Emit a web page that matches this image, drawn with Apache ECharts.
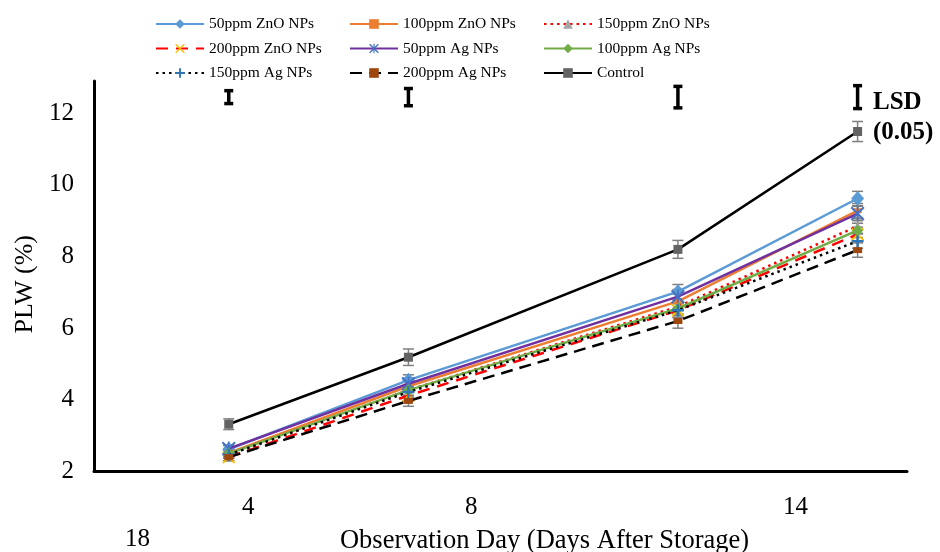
<!DOCTYPE html>
<html><head><meta charset="utf-8">
<script src="https://cdn.jsdelivr.net/npm/echarts@6/dist/echarts.min.js"></script>
<style>html,body{margin:0;padding:0;background:#fff}#c{width:940px;height:552px}</style>
</head><body><div id="c"></div>
<script>
const days = [4, 8, 14, 18];
const xTickLabels = ['4', '8', '14', '18'];
const zno50 = [2.62, 4.55, 7.02, 9.62];
const zno100 = [2.52, 4.38, 6.75, 9.28];
const zno150 = [2.47, 4.27, 6.6, 8.85];
const zno200 = [2.4, 4.12, 6.5, 8.62];
const ag50 = [2.64, 4.45, 6.88, 9.2];
const ag100 = [2.5, 4.27, 6.55, 8.73];
const ag150 = [2.47, 4.22, 6.5, 8.43];
const ag200 = [2.4, 3.97, 6.2, 8.18];
const control = [3.32, 5.19, 8.2, 11.49];
const controlErr = [0.15, 0.23, 0.25, 0.28];
const treatErr = [0.1, 0.15, 0.2, 0.2];
const lsdLevel = [12.45, 12.45, 12.45, 12.45];
const lsdHalf = [0.18, 0.24, 0.3, 0.32];

const FONT = '"Liberation Serif", "Times New Roman", serif';
const X_PATH = 'path://M0,1L1,0L5,4L9,0L10,1L6,5L10,9L9,10L5,6L1,10L0,9L4,5Z';
const AST_PATH = 'path://M0,1L1,0L5,4L9,0L10,1L6,5L10,9L9,10L5,6L1,10L0,9L4,5Z M4.4,0L5.6,0L5.6,10L4.4,10Z';
const PLUS_PATH = 'path://M4,0L6,0L6,4L10,4L10,6L6,6L6,10L4,10L4,6L0,6L0,4L4,4Z';

function pairs(vals) { return days.map((d, i) => [d, vals[i]]); }
function errData(vals, err) { return days.map((d, i) => [d, vals[i] - err[i], vals[i] + err[i]]); }

function errRender(color, width, capW) {
  return function (params, api) {
    const x = api.value(0), lo = api.value(1), hi = api.value(2);
    const t = api.coord([x, hi]), b = api.coord([x, lo]);
    const st = { stroke: color, lineWidth: width };
    return { type: 'group', children: [
      { type: 'line', shape: { x1: t[0], y1: t[1], x2: b[0], y2: b[1] }, style: st },
      { type: 'line', shape: { x1: t[0] - capW / 2, y1: t[1], x2: t[0] + capW / 2, y2: t[1] }, style: st },
      { type: 'line', shape: { x1: b[0] - capW / 2, y1: b[1], x2: b[0] + capW / 2, y2: b[1] }, style: st }
    ] };
  };
}
function errSeries(vals, err, color, width, capW, z) {
  return { type: 'custom', silent: true, z: z, renderItem: errRender(color, width, capW),
    encode: { x: 0, y: [1, 2] }, data: errData(vals, err) };
}
function lineSeries(name, vals, color, lineType, symbol, symbolSize, symColor, z) {
  return { name: name, type: 'line', data: pairs(vals), z: z,
    lineStyle: { color: color, width: 2.5, type: lineType },
    symbol: symbol, symbolSize: symbolSize,
    itemStyle: { color: symColor },
    showAllSymbol: true };
}

const series = [
  errSeries(zno50, treatErr, '#7f7f7f', 1.5, 11, 1),
  errSeries(zno100, treatErr, '#7f7f7f', 1.5, 11, 1),
  errSeries(zno150, treatErr, '#7f7f7f', 1.5, 11, 1),
  errSeries(zno200, treatErr, '#7f7f7f', 1.5, 11, 1),
  errSeries(ag50, treatErr, '#7f7f7f', 1.5, 11, 1),
  errSeries(ag100, treatErr, '#7f7f7f', 1.5, 11, 1),
  errSeries(ag150, treatErr, '#7f7f7f', 1.5, 11, 1),
  errSeries(ag200, treatErr, '#7f7f7f', 1.5, 11, 1),
  errSeries(control, controlErr, '#7f7f7f', 1.5, 11, 1),
  errSeries(lsdLevel, lsdHalf, '#000000', 3.5, 9, 1),
  lineSeries('50ppm ZnO NPs', zno50, '#5B9BD5', 'solid', 'diamond', [13, 15], '#5B9BD5', 2),
  lineSeries('100ppm ZnO NPs', zno100, '#ED7D31', 'solid', 'rect', [8, 5], '#ED7D31', 3),
  lineSeries('150ppm ZnO NPs', zno150, '#FF0000', [2.5, 4], 'triangle', 9, '#A5A5A5', 4),
  lineSeries('200ppm ZnO NPs', zno200, '#FF0000', [12, 8], X_PATH, 13, '#FFC000', 5),
  lineSeries('50ppm Ag NPs', ag50, '#7030A0', 'solid', AST_PATH, 14, '#4472C4', 6),
  lineSeries('100ppm Ag NPs', ag100, '#70AD47', 'solid', 'diamond', [11, 12], '#70AD47', 7),
  lineSeries('150ppm Ag NPs', ag150, '#000000', [2.5, 4], PLUS_PATH, 12, '#2E75B6', 8),
  lineSeries('200ppm Ag NPs', ag200, '#000000', [12, 7], 'rect', [9, 6], '#9E480E', 9),
  lineSeries('Control', control, '#000000', 'solid', 'rect', 9, '#636363', 10)
];

function legendCol(left, names) {
  return { left: left, top: 16, orient: 'vertical', itemWidth: 48, itemHeight: 12, itemGap: 8.5, padding: 0,
    data: names, textStyle: { fontFamily: FONT, fontSize: 15.5, color: '#000' }, selectedMode: false };
}

const LBL = '25px ' + FONT;
const chart = echarts.init(document.getElementById('c'), null, { renderer: 'canvas' });
chart.setOption({
  animation: false,
  backgroundColor: '#fff',
  textStyle: { fontFamily: FONT },
  grid: { left: 94, right: 33, top: 81, bottom: 80.5, containLabel: false, outerBoundsMode: 'none' },
  legend: [
    legendCol(155, ['50ppm ZnO NPs', '200ppm ZnO NPs', '150ppm Ag NPs']),
    legendCol(349, ['100ppm ZnO NPs', '50ppm Ag NPs', '200ppm Ag NPs']),
    legendCol(543, ['150ppm ZnO NPs', '100ppm Ag NPs', 'Control'])
  ],
  xAxis: { type: 'value', min: 1, max: 19.1, splitLine: { show: false },
    axisLine: { show: true, lineStyle: { color: '#000', width: 3 } },
    axisTick: { show: false }, axisLabel: { show: false },
    name: 'Observation Day (Days After Storage)', nameLocation: 'middle', nameGap: 56,
    nameTextStyle: { fontFamily: FONT, fontSize: 26.5, color: '#000', padding: [0, 0, 0, 88] } },
  yAxis: { type: 'value', min: 2, max: 12.9, interval: 2, splitLine: { show: false },
    axisLine: { show: true, lineStyle: { color: '#000', width: 3 } },
    axisTick: { show: false },
    axisLabel: { showMaxLabel: false, margin: 20, fontFamily: FONT, fontSize: 25, color: '#000' },
    name: 'PLW (%)', nameLocation: 'middle', nameGap: 56,
    nameTextStyle: { fontFamily: FONT, fontSize: 26, color: '#000', padding: [0, 16, 0, 0] } },
  graphic: [
    { type: 'text', left: 242, top: 495, style: { text: xTickLabels[0], font: LBL, fill: '#000' } },
    { type: 'text', left: 465, top: 495, style: { text: xTickLabels[1], font: LBL, fill: '#000' } },
    { type: 'text', left: 783, top: 495, style: { text: xTickLabels[2], font: LBL, fill: '#000' } },
    { type: 'text', left: 125, top: 527, style: { text: xTickLabels[3], font: LBL, fill: '#000' } },
    { type: 'text', left: 873, top: 88, style: { text: 'LSD\n(0.05)', font: 'bold 25px ' + FONT, fill: '#000', lineHeight: 30 } }
  ],
  series: series
});
</script></body></html>
